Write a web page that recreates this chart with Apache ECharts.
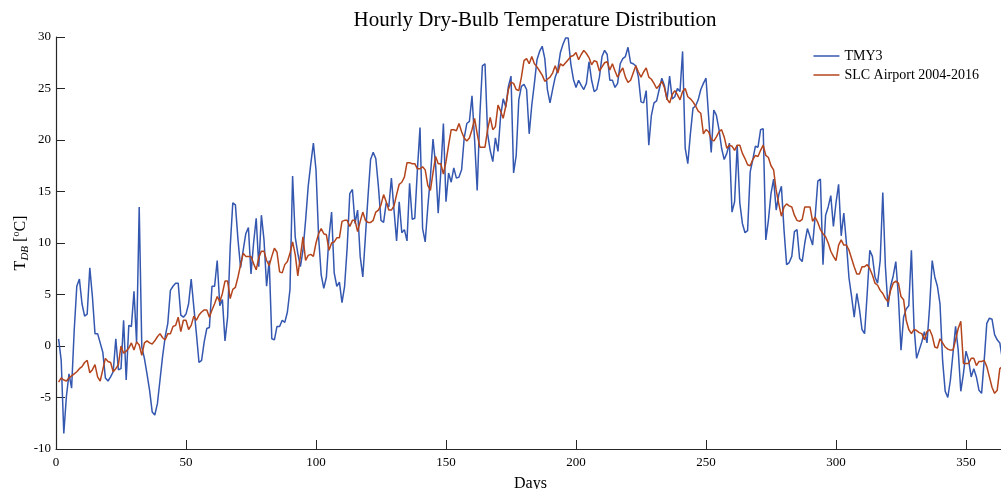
<!DOCTYPE html>
<html>
<head>
<meta charset="utf-8">
<script src="https://cdn.jsdelivr.net/npm/echarts@6/dist/echarts.min.js"></script>
<style>
html,body{margin:0;padding:0;background:#fff;}
#chart{width:1001px;height:489px;}
</style>
</head>
<body>
<div id="chart"></div>
<script>
const title = 'Hourly Dry-Bulb Temperature Distribution';
const seriesNames = ['TMY3', 'SLC Airport 2004-2016'];
const xTicks = [0, 50, 100, 150, 200, 250, 300, 350];
const yTicks = [-10, -5, 0, 5, 10, 15, 20, 25, 30];

// daily values, day 1 .. 365
const tmy3 = [
0.7,-1.4,-8.5,-4.9,-2.7,-4.1,1.5,5.8,6.5,4.1,
2.9,3.1,7.6,4.8,1.2,1.2,0.3,-0.6,-3.1,-3.4,
-3.0,-2.5,0.7,-2.3,-2.2,2.5,-3.3,2.0,1.9,5.3,
0.3,13.5,-0.1,-1.2,-2.7,-4.3,-6.4,-6.7,-5.6,-3.3,
-1.0,0.9,2.2,5.4,5.8,6.1,6.1,3.0,2.8,3.1,
4.1,6.5,3.8,1.2,-1.6,-1.4,0.4,1.7,1.8,5.8,
5.8,8.3,3.9,4.5,0.5,2.8,9.6,13.9,13.7,10.3,
7.6,9.3,10.9,11.5,7.0,10.0,12.4,7.7,12.7,10.3,
5.8,8.3,0.7,0.6,1.9,1.9,2.5,2.3,3.3,5.5,
16.5,10.6,9.0,7.7,9.3,12.2,15.5,17.7,19.7,17.1,
10.6,6.9,5.6,6.7,10.6,13.0,7.1,5.8,6.2,4.2,
5.8,9.6,14.8,15.2,11.9,13.2,8.7,6.7,10.6,14.5,
18.1,18.8,18.2,15.5,12.2,12.0,13.9,13.5,16.3,13.2,
10.2,14.0,11.0,11.3,10.2,15.8,12.3,12.4,17.1,21.2,
11.4,10.1,13.5,16.4,20.1,17.6,12.9,16.9,21.6,14.0,
16.8,15.9,17.3,16.3,16.4,17.1,20.2,21.6,21.8,24.3,
20.0,15.1,22.3,27.2,27.4,20.6,19.0,17.9,20.2,18.9,
22.3,24.0,23.2,25.2,26.2,16.8,18.5,23.9,25.2,25.4,
24.9,20.6,23.4,25.5,27.8,28.6,29.1,27.9,24.9,23.6,
24.9,26.1,26.8,28.5,29.3,29.9,29.9,27.4,25.9,25.1,
25.8,25.3,24.9,25.5,27.6,25.8,24.7,24.9,26.1,28.1,
28.7,28.3,25.8,25.8,25.1,25.5,27.4,27.9,28.1,29.0,
27.5,27.4,27.2,26.1,23.7,23.6,24.8,19.5,22.4,23.6,
23.8,24.9,26.0,25.3,23.9,26.2,24.0,24.2,25.0,24.7,
28.6,19.2,17.7,20.6,23.1,23.3,23.9,24.9,25.5,26.0,
22.3,18.8,22.9,22.4,21.0,19.2,18.1,18.7,19.7,13.0,
14.0,19.5,13.9,11.9,11.0,11.2,16.9,18.1,19.4,19.3,
21.0,21.1,10.3,12.2,14.8,16.2,13.2,14.7,15.5,11.3,
7.9,8.1,8.7,11.1,11.3,8.5,8.2,10.0,11.4,10.6,
9.8,12.6,16.0,16.2,7.9,12.7,13.5,14.6,11.6,13.9,
15.7,10.7,12.9,10.0,6.6,4.8,2.8,5.1,3.6,1.6,
1.2,5.1,9.3,8.7,6.7,6.1,8.3,14.9,7.7,3.8,
5.8,6.8,8.2,4.8,-0.4,2.8,3.6,3.9,9.3,1.9,
-1.2,-0.4,0.4,1.4,0.3,3.8,8.3,6.7,5.8,4.1,
-1.4,-4.4,-5.0,-3.3,-0.7,1.9,-0.4,-4.4,-2.7,-0.5,
-1.4,-3.0,-2.2,-3.0,-4.3,-4.6,-1.4,2.2,2.7,2.6,
1.1,0.6,0.3,-1.3,-1.5
];

const slc = [
-3.5,-3.1,-3.3,-3.4,-3.1,-2.9,-2.7,-2.5,-2.2,-2.0,
-1.6,-1.4,-2.6,-2.3,-1.8,-3.0,-3.4,-2.3,-1.2,-1.5,
-1.6,-2.5,-2.2,-1.8,0.0,-0.7,-0.5,-0.2,0.3,-0.4,
0.4,0.1,-0.9,0.3,0.5,0.3,0.2,0.5,0.9,1.2,
0.8,0.6,1.2,1.2,1.9,2.0,2.8,1.4,2.5,2.5,
1.6,2.0,2.9,2.5,3.0,3.3,3.5,3.5,2.8,3.5,
4.1,4.8,4.3,5.1,6.3,6.3,4.6,5.5,5.7,6.7,
7.9,9.0,8.7,8.7,8.7,8.0,7.4,8.6,9.2,9.2,
8.3,7.8,8.7,9.5,9.1,7.2,7.1,7.9,8.2,9.0,
10.1,8.9,6.8,8.7,10.6,8.3,8.8,8.9,8.7,10.0,
10.9,11.4,10.9,10.8,9.3,10.0,10.1,10.5,10.5,12.1,
12.2,12.2,11.6,12.2,12.2,11.1,12.1,13.0,12.2,12.0,
12.0,12.2,13.0,13.2,13.7,14.7,14.0,13.2,13.2,13.6,
14.7,15.7,15.9,16.4,17.8,17.8,17.7,17.7,17.2,17.2,
17.4,17.1,15.6,15.1,16.8,18.4,17.7,17.7,16.7,17.9,
19.5,21.0,21.0,20.9,21.6,20.8,20.2,19.9,20.2,21.0,
22.1,20.6,19.3,19.3,19.3,21.0,22.2,21.0,21.3,23.4,
22.8,22.1,23.3,24.9,25.6,25.5,24.9,24.8,26.1,27.7,
27.9,27.4,28.1,27.4,27.1,26.7,26.3,25.7,25.9,26.1,
26.5,27.2,26.5,27.4,27.2,27.5,27.8,28.1,28.2,28.5,
27.8,28.3,28.7,28.4,28.0,27.3,27.7,27.6,26.7,27.1,
27.5,27.6,26.8,27.4,26.7,26.1,26.6,27.0,26.1,25.6,
25.8,26.5,27.2,26.6,26.1,26.6,27.0,26.1,25.9,25.5,
25.0,25.3,25.7,25.1,24.0,23.6,24.4,24.8,24.4,23.9,
24.7,25.0,24.2,24.0,23.7,23.3,22.8,22.6,20.6,21.0,
20.8,20.1,19.9,20.3,20.8,21.0,20.3,19.2,19.5,19.4,
19.0,19.5,19.5,18.7,18.2,17.6,17.5,18.1,18.5,18.4,
19.0,19.5,18.5,18.3,17.5,17.1,15.1,13.8,12.6,13.5,
13.8,13.6,13.5,12.7,12.2,12.1,12.3,13.5,13.5,13.5,
12.1,12.5,12.0,11.3,10.9,10.6,10.0,9.2,8.7,8.3,
9.8,10.3,9.8,9.8,9.3,8.5,7.7,7.0,7.0,7.7,
7.7,7.9,7.5,6.9,6.1,5.9,5.4,5.1,4.6,4.3,
5.4,6.1,6.3,6.1,4.8,4.5,2.5,1.6,1.2,1.6,
1.5,1.3,1.2,0.6,1.4,1.6,1.0,-0.1,-0.2,0.7,
0.3,-0.1,-0.3,-0.4,-0.4,0.6,1.7,2.4,-1.7,-1.7,
-1.7,-1.2,-1.2,-1.9,-1.5,-1.5,-1.4,-2.0,-3.0,-4.0,
-4.6,-4.3,-2.2,-2.0,-2.0
];

const colors = ['#3457b0', '#b4441c'];
const font = '"Liberation Serif", "DejaVu Serif", serif';
const toPairs = arr => arr.map((v, i) => [i + 1, v]);

const chart = echarts.init(document.getElementById('chart'), null, {renderer: 'canvas'});
chart.setOption({
  animation: false,
  backgroundColor: '#ffffff',
  textStyle: {fontFamily: font},
  title: {
    text: title,
    left: 530, top: 5, textAlign: 'center',
    textStyle: {fontFamily: font, fontSize: 21, fontWeight: 'normal', color: '#000'}
  },
  legend: {
    right: 17, top: 44, orient: 'vertical', itemGap: 5,
    itemWidth: 26, itemHeight: 14, icon: 'path://M0,6L26,6L26,7.5L0,7.5Z',
    textStyle: {fontFamily: font, fontSize: 14, color: '#000'},
    data: seriesNames
  },
  grid: {left: 56, top: 37, width: 949, height: 412, containLabel: false, outerBoundsMode: 'none'},
  xAxis: {
    type: 'value', min: 0, max: 365, interval: 50,
    name: 'Days', nameLocation: 'middle', nameGap: 27, nameMoveOverlap: false,
    nameTextStyle: {fontFamily: font, fontSize: 16, color: '#000'},
    axisLine: {onZero: false, lineStyle: {color: '#262626', width: 1.2}},
    axisTick: {inside: true, length: 9, lineStyle: {color: '#262626'}},
    axisLabel: {fontFamily: font, fontSize: 13, color: '#000', margin: 7,
      formatter: v => xTicks.indexOf(v) >= 0 ? String(v) : ''},
    splitLine: {show: false}
  },
  yAxis: {
    type: 'value', min: -10, max: 30, interval: 5,
    name: 'T{sub|DB} [{sup|o}C]', nameLocation: 'middle', nameGap: 25, nameRotate: 90,
    nameMoveOverlap: false,
    nameTextStyle: {fontFamily: font, fontSize: 16, color: '#000', lineHeight: 20,
      rich: {
        sub: {fontFamily: font, fontSize: 11, fontStyle: 'italic', verticalAlign: 'bottom', lineHeight: 20, color: '#000'},
        sup: {fontFamily: font, fontSize: 10, verticalAlign: 'top', lineHeight: 20, color: '#000'}
      }},
    axisLine: {show: true, onZero: false, lineStyle: {color: '#262626', width: 1.2}},
    axisTick: {show: true, inside: true, length: 9, lineStyle: {color: '#262626'}},
    axisLabel: {fontFamily: font, fontSize: 13, color: '#000', margin: 5,
      formatter: v => yTicks.indexOf(v) >= 0 ? String(v) : ''},
    splitLine: {show: false}
  },
  series: [
    {name: seriesNames[0], type: 'line', data: toPairs(tmy3), showSymbol: false, symbol: 'none',
     lineStyle: {color: colors[0], width: 1.5}, itemStyle: {color: colors[0]}, clip: true},
    {name: seriesNames[1], type: 'line', data: toPairs(slc), showSymbol: false, symbol: 'none',
     lineStyle: {color: colors[1], width: 1.5}, itemStyle: {color: colors[1]}, clip: true}
  ]
});
</script>
</body>
</html>
